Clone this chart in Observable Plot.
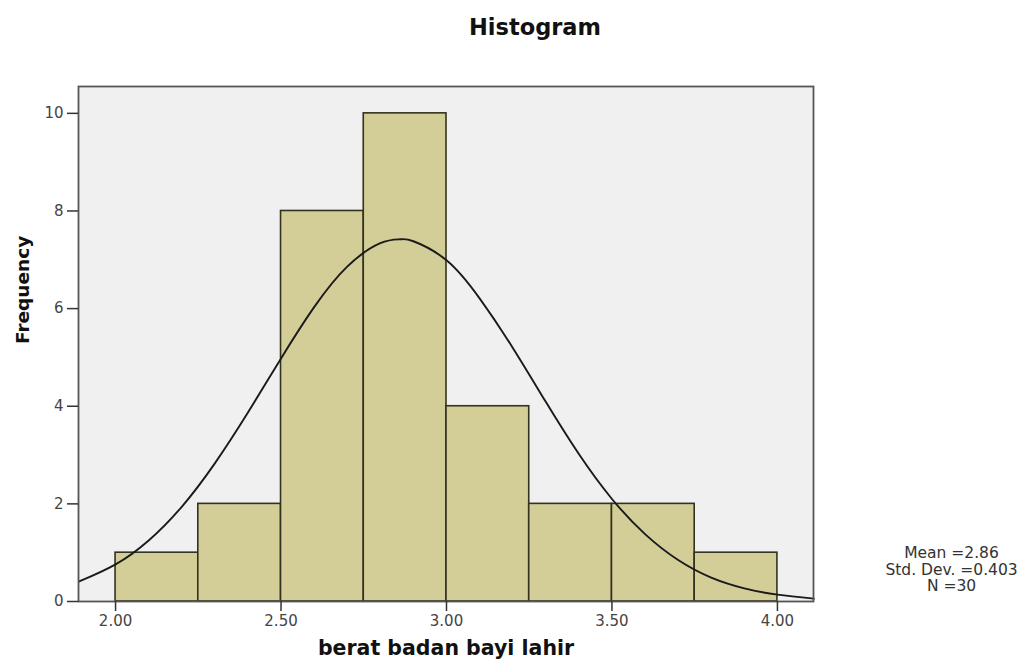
<!DOCTYPE html>
<html>
<head>
<meta charset="utf-8">
<script src="https://cdn.jsdelivr.net/npm/d3@7"></script>
<script src="https://cdn.jsdelivr.net/npm/@observablehq/plot@0.6"></script>
<style>
  body { margin: 0; background: #fff; }
  #chart svg { display: block; }
</style>
</head>
<body>
<div id="chart"></div>
<script>
// Histogram bins (lower edge, upper edge) and frequencies
const binStart = [2.00, 2.25, 2.50, 2.75, 3.00, 3.25, 3.50, 3.75];
const binEnd   = [2.25, 2.50, 2.75, 3.00, 3.25, 3.50, 3.75, 4.00];
const freq     = [1, 2, 8, 10, 4, 2, 2, 1];

// Normal curve points
const curveX = [1.89, 2.00, 2.10, 2.20, 2.30, 2.40, 2.50, 2.60, 2.70, 2.80, 2.86, 2.90, 3.00, 3.10, 3.20, 3.30, 3.40, 3.50, 3.60, 3.70, 3.80, 3.90, 4.00, 4.11];
const curveY = [0.41, 0.76, 1.25, 1.94, 2.83, 3.87, 4.98, 6.03, 6.86, 7.34, 7.42, 7.38, 6.99, 6.21, 5.20, 4.09, 3.02, 2.10, 1.38, 0.85, 0.49, 0.27, 0.14, 0.06];

const xTicks = [2.00, 2.50, 3.00, 3.50, 4.00];
const yTicks = [0, 2, 4, 6, 8, 10];

const titleText = "Histogram";
const xLabel = "berat badan bayi lahir";
const yLabel = "Frequency";
const statLines = ["Mean =2.86", "Std. Dev. =0.403", "N =30"];

const bins = binStart.map((s, i) => ({x1: s, x2: binEnd[i], y: freq[i]}));
const curve = curveX.map((x, i) => ({x, y: curveY[i]}));

const font = "'DejaVu Sans', Verdana, sans-serif";

const chart = Plot.plot({
  width: 1025,
  height: 660,
  marginLeft: 78,
  marginRight: 212,
  marginTop: 86,
  marginBottom: 59,
  style: {fontFamily: font, background: "#fff"},
  x: {domain: [1.888, 4.109], ticks: xTicks, tickFormat: d3.format(".2f"), label: null},
  y: {domain: [0, 10.55], ticks: yTicks, label: null},
  marks: [
    Plot.frame({fill: "#f0f0f0", stroke: "none"}),
    Plot.rectY(bins, {x1: "x1", x2: "x2", y: "y", fill: "#d3cd98", stroke: "#33321f", strokeWidth: 1.6, inset: 0}),
    Plot.line(curve, {x: "x", y: "y", curve: "natural", stroke: "#1a1a1a", strokeWidth: 1.9}),
    Plot.frame({stroke: "#555", strokeWidth: 1.8}),
    Plot.axisY({ticks: yTicks, tickSize: 11, tickPadding: 4, fontSize: 15, fill: "#444", stroke: "#333", strokeWidth: 1.5, label: null}),
    Plot.axisX({ticks: xTicks, tickFormat: d3.format(".2f"), tickSize: 10, tickPadding: 4, fontSize: 15, fill: "#444", stroke: "#333", strokeWidth: 1.5, label: null}),
    Plot.text([titleText], {frameAnchor: "top", lineAnchor: "bottom", dx: 89, dy: -52, fontSize: 22.5, fontWeight: "bold", fill: "#111", fontFamily: font}),
    Plot.text([xLabel], {frameAnchor: "bottom", lineAnchor: "bottom", dy: 53, fontSize: 20.5, fontWeight: "bold", fill: "#111", fontFamily: font}),
    Plot.text([yLabel], {frameAnchor: "left", dx: -55, rotate: -90, fontSize: 18.5, fontWeight: "bold", fill: "#111", fontFamily: font}),
    Plot.text([statLines.join("\n")], {frameAnchor: "bottom-right", dx: 138, dy: -32, textAnchor: "middle", lineAnchor: "middle", lineHeight: 1.05, fontSize: 15.5, fill: "#333", fontFamily: font})
  ]
});
document.getElementById("chart").appendChild(chart);
</script>
</body>
</html>
